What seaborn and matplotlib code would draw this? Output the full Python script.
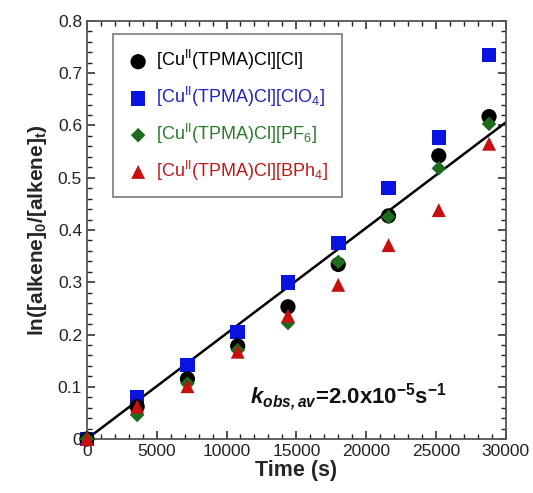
import numpy as np
import pandas as pd
import matplotlib
matplotlib.use("Agg")
import matplotlib.pyplot as plt
import seaborn as sns
from matplotlib.ticker import MultipleLocator

# ------------------------
# DATA
# ------------------------

time_s = [0, 3600, 7200, 10800, 14400, 18000, 21600, 25200, 28800]

ln_cl = [0.0, 0.062, 0.115, 0.178, 0.253, 0.334, 0.427, 0.542, 0.617]
ln_clo4 = [0.0, 0.080, 0.142, 0.205, 0.300, 0.375, 0.480, 0.577, 0.735]
ln_pf6 = [0.0, 0.046, 0.106, 0.170, 0.222, 0.339, 0.425, 0.518, 0.603]
ln_bph4 = [0.0, 0.062, 0.101, 0.167, 0.236, 0.295, 0.371, 0.438, 0.565]

series_labels = [
    r"[Cu$^{\rm II}$(TPMA)Cl][Cl]",
    r"[Cu$^{\rm II}$(TPMA)Cl][ClO$_4$]",
    r"[Cu$^{\rm II}$(TPMA)Cl][PF$_6$]",
    r"[Cu$^{\rm II}$(TPMA)Cl][BPh$_4$]",
]

k_obs = 2.02e-5
fit_time = [0, 30000]

x_ticks = [0, 5000, 10000, 15000, 20000, 25000, 30000]
y_ticks = [0, 0.1, 0.2, 0.3, 0.4, 0.5, 0.6, 0.7, 0.8]

# ------------------------
# STYLE
# ------------------------

sns.set_theme(style="white")
plt.rcParams["font.family"] = ["Liberation Sans", "DejaVu Sans"]
plt.rcParams["mathtext.fontset"] = "custom"
plt.rcParams["mathtext.rm"] = "Liberation Sans"
plt.rcParams["mathtext.it"] = "Liberation Sans:italic"
plt.rcParams["mathtext.bf"] = "Liberation Sans:bold"
plt.rcParams["mathtext.bfit"] = "Liberation Sans:bold:italic"

fig = plt.figure(figsize=(5.33, 4.93), dpi=100)
ax = fig.add_axes([0.163, 0.1095, 0.786, 0.848])

# draw order: ClO4 under, then Cl, PF6, BPh4 on top
styles = {
    1: dict(values=ln_clo4, color="#0a14e0", marker="s", s=110),
    0: dict(values=ln_cl, color="black", marker="o", s=120),
    2: dict(values=ln_pf6, color="#1e6b1e", marker="D", s=55),
    3: dict(values=ln_bph4, color="#c81010", marker="^", s=100),
}

# fit line first (under markers)
fit_df = pd.DataFrame({"t": fit_time, "y": [k_obs * t for t in fit_time]})
sns.lineplot(data=fit_df, x="t", y="y", color="black", linewidth=1.8, ax=ax)

handles = {}
for idx, st in styles.items():
    df = pd.DataFrame({"t": time_s, "y": st["values"]})
    sns.scatterplot(data=df, x="t", y="y", color=st["color"], marker=st["marker"],
                    s=st["s"], edgecolor="none", linewidth=0, ax=ax, zorder=3,
                    clip_on=False)
    handles[idx] = ax.collections[-1]

ax.set_xlim(0, 30000)
ax.set_ylim(0, 0.8)
ax.set_xticks(x_ticks)
ax.set_yticks(y_ticks)
ax.set_xticklabels([str(v) for v in x_ticks])
ax.set_yticklabels(["0"] + [f"{v:.1f}" for v in y_ticks[1:]])
ax.xaxis.set_minor_locator(MultipleLocator(1000))
ax.yaxis.set_minor_locator(MultipleLocator(0.02))
ax.tick_params(which="both", direction="in", top=True, right=True, bottom=True, left=True,
               labelsize=12.5, colors="#222222")
ax.tick_params(which="major", length=6, width=1.1)
ax.tick_params(which="minor", length=3.5, width=1.0)
for sp in ax.spines.values():
    sp.set_color("#555555")
    sp.set_linewidth(1.3)

ax.set_xlabel("Time (s)", fontsize=15.5, fontweight="bold", labelpad=1)
ax.set_ylabel(r"ln([alkene]$_\mathbf{0}$/[alkene]$_\mathbf{t}$)", fontsize=15,
              fontweight="bold", labelpad=6)

leg = ax.legend([handles[i] for i in range(4)], series_labels,
                loc="upper left", bbox_to_anchor=(0.062, 0.969),
                fontsize=13, frameon=True, fancybox=False,
                edgecolor="#666666", handletextpad=0.4, labelspacing=0.7,
                borderpad=0.8, handlelength=1.2, borderaxespad=0)
leg.get_frame().set_linewidth(1.3)
for txt, idx in zip(leg.get_texts(), range(4)):
    txt.set_color(["black", "#2020c8", "#2a7a2a", "#c01818"][idx])

ax.text(11650, 0.069,
        r"$\mathbfit{k}_{\mathbfit{obs,av}}$=2.0x10$^{\mathbf{-5}}$s$^{\mathbf{-1}}$",
        fontsize=16, fontweight="bold", color="#111111")

fig.savefig("out.png", dpi=100)
